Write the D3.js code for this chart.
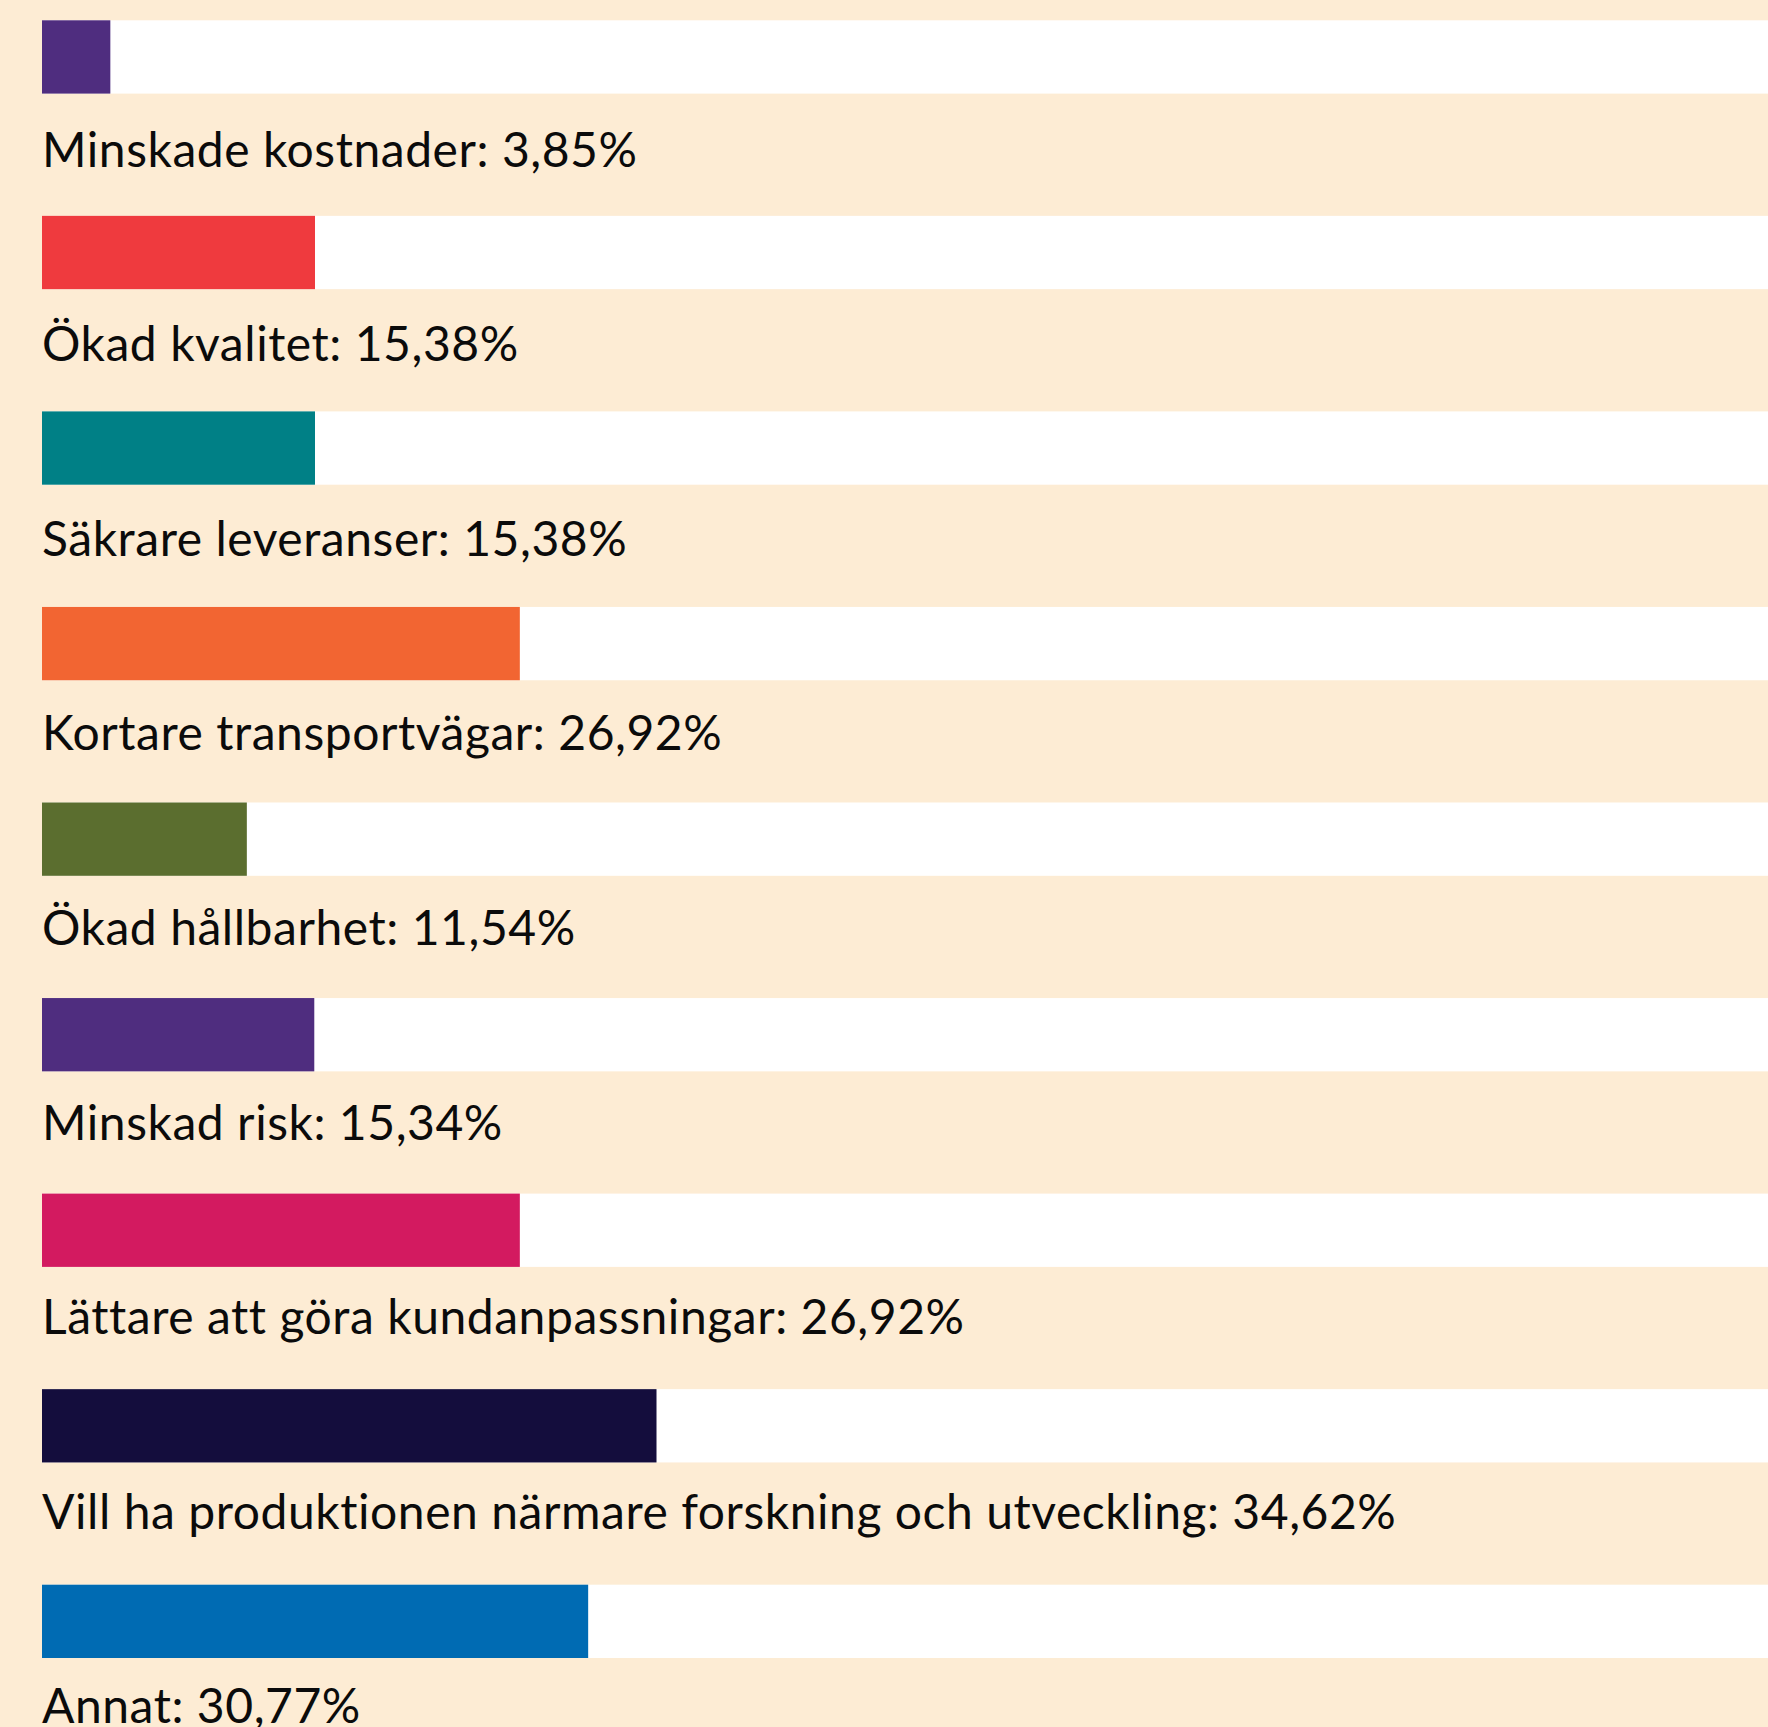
<!DOCTYPE html>
<html>
<head>
<meta charset="utf-8">
<script src="https://cdn.jsdelivr.net/npm/d3@7"></script>
<style>
  body { margin: 0; background: #fdecd4; }
  .label { font-family: Lato, "Open Sans", sans-serif; font-size: 48px; letter-spacing: 0.55px; fill: #0b0b0b; }
</style>
</head>
<body>
<div id="chart"></div>
<script>
// answers in the survey, percent
var categories = ["Minskade kostnader", "Ökad kvalitet", "Säkrare leveranser",
  "Kortare transportvägar", "Ökad hållbarhet", "Minskad risk",
  "Lättare att göra kundanpassningar",
  "Vill ha produktionen närmare forskning och utveckling", "Annat"];
var values = [3.85, 15.38, 15.38, 26.92, 11.54, 15.34, 26.92, 34.62, 30.77];
var colors = ["#4f2d7f", "#ef3a3e", "#008086", "#f26532", "#5b6e2f",
  "#4f2d7f", "#d31a60", "#140d3d", "#006bb3"];

var width = 1768, height = 1727;
var left = 42, rowStep = 195.55, barH = 73.3;

var svg = d3.select("#chart").append("svg")
    .attr("width", width)
    .attr("height", height)
    .style("display", "block");

svg.append("rect").attr("width", width).attr("height", height).attr("fill", "#fdecd4");

var x = d3.scaleLinear().domain([0, 100]).range([left, left + 1775]);
var y = d3.scaleLinear().domain([0, categories.length]).range([20.3, 20.3 + rowStep * categories.length]);
// labels sit a bit tighter than the bars
var yLabel = d3.scaleLinear().domain([0, categories.length]).range([166.5, 166.5 + 194.6 * categories.length]);

var sv = d3.formatLocale({decimal: ",", thousands: " ", grouping: [3], currency: ["", " kr"]});
var fmt = sv.format(".2f");

var rows = svg.selectAll("g.row")
    .data(categories)
    .enter().append("g")
    .attr("class", "row");

// white track
rows.append("rect")
    .attr("x", left)
    .attr("y", function(d, i){ return y(i); })
    .attr("width", width - left)
    .attr("height", barH)
    .attr("fill", "#ffffff");

rows.append("rect")
    .attr("x", x(0))
    .attr("y", function(d, i){ return y(i); })
    .attr("width", function(d, i){ return x(values[i]) - x(0); })
    .attr("height", barH)
    .attr("fill", function(d, i){ return colors[i]; });

rows.append("text")
    .attr("class", "label")
    .attr("x", left)
    .attr("y", function(d, i){ return yLabel(i); })
    .text(function(d, i){ return d + ": " + fmt(values[i]) + "%"; });
</script>
</body>
</html>
